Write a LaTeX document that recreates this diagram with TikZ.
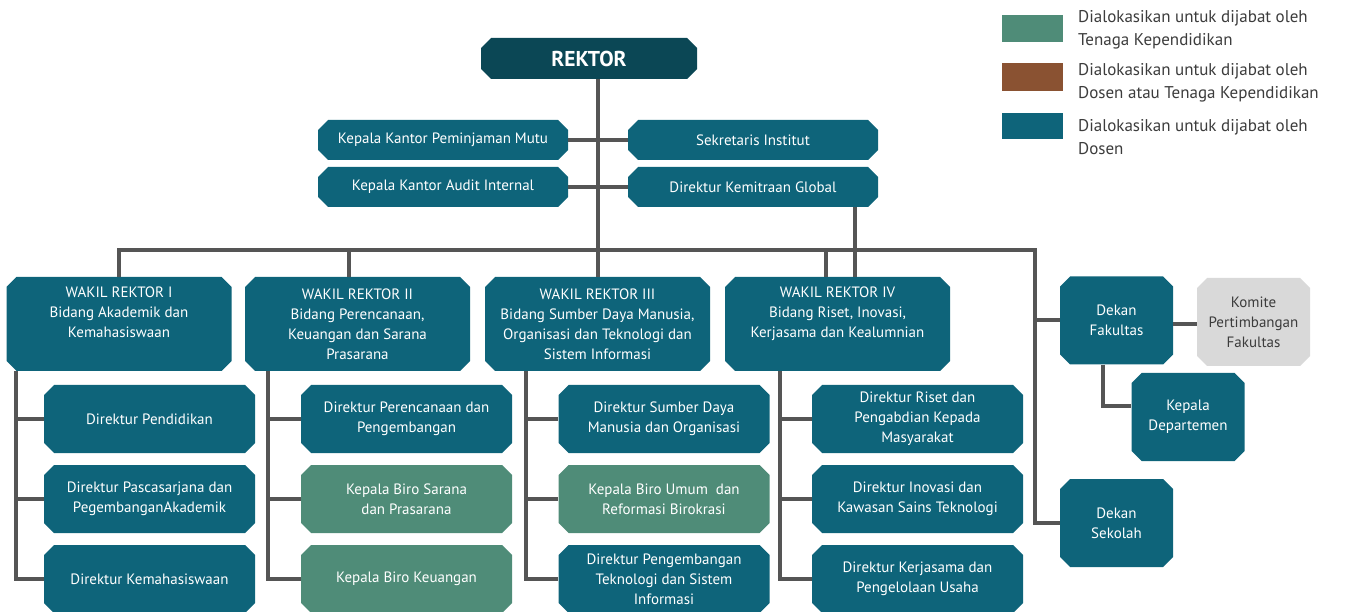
\documentclass[tikz,border=0pt]{standalone}
\usepackage{fontspec}
\setmainfont{PT Sans}
\usepackage{xcolor}
\usetikzlibrary{shapes.misc}

\definecolor{colDosen}{HTML}{0E647A}
\definecolor{colTendik}{HTML}{4F8C78}
\definecolor{colCampur}{HTML}{8A5232}
\definecolor{colRektor}{HTML}{0B4755}
\definecolor{colKomite}{HTML}{D9D9D9}
\definecolor{colGaris}{HTML}{555555}
\definecolor{colTeks}{HTML}{3C3C3C}

\tikzset{
  unit/.style={chamfered rectangle, chamfered rectangle xsep=5pt, chamfered rectangle ysep=5pt,
    fill=colDosen, text=white, inner sep=0pt, align=center,
    font=\fontsize{15}{20}\selectfont},
  tendik/.style={unit, fill=colTendik},
  komite/.style={unit, fill=colKomite, text=colTeks},
  sidebox/.style={unit, minimum width=250, minimum height=40},
  wrbox/.style={unit, minimum width=225, minimum height=94},
  subbox/.style={minimum width=211, minimum height=68},
  smallbox/.style={minimum width=113, minimum height=88},
  garis/.style={draw=colGaris, line width=4pt},
  swatch/.style={fill=#1, minimum width=61, minimum height=27, inner sep=0pt},
  legtext/.style={anchor=west, align=left, text=colTeks, inner sep=0pt,
    font=\fontsize{17}{23.5}\selectfont},
}

\begin{document}
\begin{tikzpicture}[x=1pt, y=-1pt]
  \useasboundingbox (0,0) rectangle (1345,612);

  % pimpinan
  \node[unit, fill=colRektor, minimum width=216, minimum height=41,
        font=\fontsize{21.5}{24}\selectfont\bfseries] (rektor) at (589,58.5) {REKTOR};
  \node[sidebox] (kpm) at (443,140) {Kepala Kantor Peminjaman Mutu};
  \node[sidebox] (sekr) at (753,140) {Sekretaris Institut};
  \node[sidebox] (kai) at (443,187) {Kepala Kantor Audit Internal};
  \node[sidebox] (kemitraan) at (753,187) {Direktur Kemitraan Global};

  % wakil rektor
  \node[wrbox] (wr1) at (119,324) {WAKIL REKTOR I\\Bidang Akademik dan\\Kemahasiswaan\\[-2pt]\strut};
  \node[wrbox] (wr2) at (357.5,324) {WAKIL REKTOR II\\Bidang Perencanaan,\\Keuangan dan Sarana\\Prasarana};
  \node[wrbox] (wr3) at (597.5,324) {WAKIL REKTOR III\\Bidang Sumber Daya Manusia,\\Organisasi dan Teknologi dan\\Sistem Informasi};
  \node[wrbox] (wr4) at (837.5,324) {WAKIL REKTOR IV\\Bidang Riset, Inovasi,\\Kerjasama dan Kealumnian\\[-2pt]\strut};

  % direktorat
  \node[unit, subbox] (dpend) at (149.5,419) {Direktur Pendidikan};
  \node[unit, subbox] (dpasca) at (149.5,499) {Direktur Pascasarjana dan\\PegembanganAkademik};
  \node[unit, subbox] (dmhs) at (149.5,579) {Direktur Kemahasiswaan};

  \node[unit, subbox] (dren) at (406.5,419) {Direktur Perencanaan dan\\Pengembangan};
  \node[tendik, subbox] (bsarana) at (406.5,499) {Kepala Biro Sarana\\dan Prasarana};
  \node[tendik, subbox] (bkeu) at (406.5,579) {Kepala Biro Keuangan};

  \node[unit, subbox] (dsdm) at (664,419) {Direktur Sumber Daya\\Manusia dan Organisasi};
  \node[tendik, subbox] (bumum) at (664,499) {Kepala Biro Umum \ dan\\Reformasi Birokrasi};
  \node[unit, subbox] (dtsi) at (664,579) {Direktur Pengembangan\\Teknologi dan Sistem\\Informasi};

  \node[unit, subbox] (driset) at (917.5,419) {Direktur Riset dan\\Pengabdian Kepada\\Masyarakat};
  \node[unit, subbox] (dinov) at (917.5,499) {Direktur Inovasi dan\\Kawasan Sains Teknologi};
  \node[unit, subbox] (dkerja) at (917.5,579) {Direktur Kerjasama dan\\Pengelolaan Usaha};

  % fakultas dan sekolah
  \node[unit, smallbox] (dfak) at (1116.5,320.5) {Dekan\\Fakultas};
  \node[komite, smallbox] (komite) at (1253.5,322) {Komite\\Pertimbangan\\Fakultas};
  \node[unit, smallbox] (kdep) at (1188,417) {Kepala\\Departemen};
  \node[unit, smallbox] (dsekolah) at (1116.5,523) {Dekan\\Sekolah};

  % garis
  \coordinate (busR) at (1035,250);
  \draw[garis] (rektor.south -| wr3.north) -- (wr3.north);
  \draw[garis] (kpm.east) -- (sekr.west);
  \draw[garis] (kai.east) -- (kemitraan.west);
  \draw[garis] (wr1.north) |- (busR) |- (dsekolah.west);
  \draw[garis] (busR |- dfak.west) -- (dfak.west);
  \draw[garis] ([xshift=-9]wr2.north) -- ([xshift=-9]wr2.north |- busR);
  \draw[garis] ([xshift=-12]wr4.north) -- ([xshift=-12]wr4.north |- busR);
  \coordinate (kg) at ([xshift=102]kemitraan.south);
  \draw[garis] (kg) -- (kg |- wr4.north);

  \draw[garis] ([xshift=-28]dpend.west |- wr1.south) |- (dmhs.west);
  \draw[garis] ([xshift=-28]dpend.west) -- (dpend.west);
  \draw[garis] ([xshift=-28]dpasca.west) -- (dpasca.west);
  \draw[garis] ([xshift=-33]dren.west |- wr2.south) |- (bkeu.west);
  \draw[garis] ([xshift=-33]dren.west) -- (dren.west);
  \draw[garis] ([xshift=-33]bsarana.west) -- (bsarana.west);
  \draw[garis] ([xshift=-32]dsdm.west |- wr3.south) |- (dtsi.west);
  \draw[garis] ([xshift=-32]dsdm.west) -- (dsdm.west);
  \draw[garis] ([xshift=-32]bumum.west) -- (bumum.west);
  \draw[garis] ([xshift=-32]driset.west |- wr4.south) |- (dkerja.west);
  \draw[garis] ([xshift=-32]driset.west) -- (driset.west);
  \draw[garis] ([xshift=-32]dinov.west) -- (dinov.west);

  \draw[garis] ([yshift=-4]dfak.east) -- ([yshift=-4]dfak.east -| komite.west);
  \draw[garis] ([xshift=-14]dfak.south) |- ([yshift=11]kdep.west);

  % keterangan
  \node[swatch=colTendik] (legA) at (1032.5,28.5) {};
  \node[swatch=colCampur, minimum height=28] (legB) at (1032.5,77) {};
  \node[swatch=colDosen, minimum height=26] (legC) at (1032.5,126) {};
  \node[legtext] at (1078,30) {Dialokasikan untuk dijabat oleh\\Tenaga Kependidikan};
  \node[legtext] at (1078,83) {Dialokasikan untuk dijabat oleh\\Dosen atau Tenaga Kependidikan};
  \node[legtext] at (1078,137) {Dialokasikan untuk dijabat oleh\\Dosen};
\end{tikzpicture}
\end{document}
